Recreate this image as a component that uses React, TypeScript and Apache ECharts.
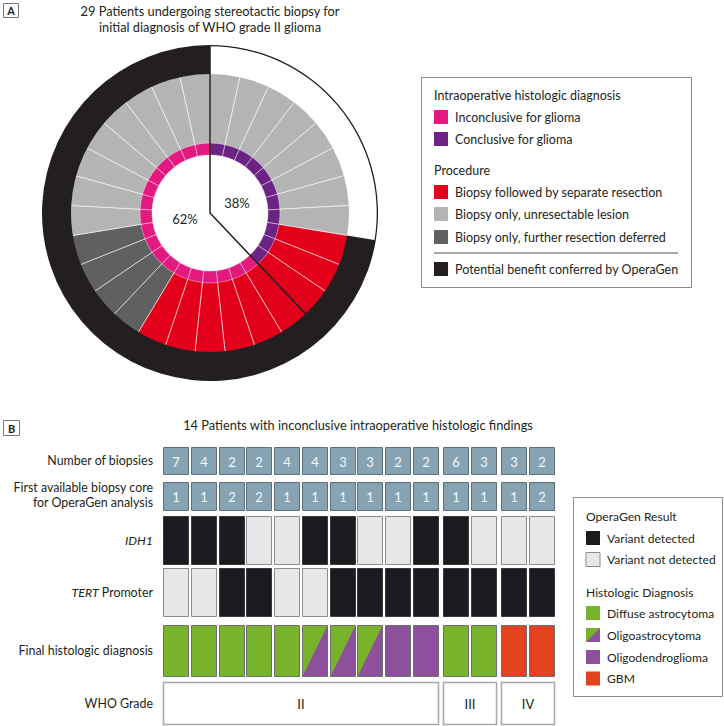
import React, { useEffect, useRef } from 'react';
import * as echarts from 'echarts';

// ---------- Panel A data ----------
const titleA = ['29 Patients undergoing stereotactic biopsy for', 'initial diagnosis of WHO grade II glioma'];
const diagnosisCategories = ['Conclusive for glioma', 'Inconclusive for glioma'];
const diagnosisCounts = [11, 18];
const procedureSegmentCategories = [
  'Biopsy only, unresectable lesion',
  'Biopsy followed by separate resection',
  'Biopsy only, further resection deferred',
  'Biopsy only, unresectable lesion',
];
const procedureSegmentCounts = [8, 9, 4, 8];
const benefitCategories = ['No additional benefit', 'Potential benefit conferred by OperaGen'];
const benefitCounts = [8, 21];

// ---------- Panel B data ----------
const titleB = '14 Patients with inconclusive intraoperative histologic findings';
const biopsyCounts = [7, 4, 2, 2, 4, 4, 3, 3, 2, 2, 6, 3, 3, 2];
const firstCore = [1, 1, 2, 2, 1, 1, 1, 1, 1, 1, 1, 1, 1, 2];
const idh1 = [1, 1, 1, 0, 0, 1, 1, 0, 0, 1, 1, 0, 0, 0];
const tert = [0, 0, 1, 1, 0, 0, 1, 1, 1, 1, 1, 1, 1, 1];
const histology = ['DA', 'DA', 'DA', 'DA', 'DA', 'OA', 'OA', 'OA', 'OD', 'OD', 'DA', 'DA', 'GBM', 'GBM'];
const whoGrades = ['II', 'III', 'IV'];
const gradeGroup = [0, 0, 0, 0, 0, 0, 0, 0, 0, 0, 1, 1, 2, 2];

// ---------- styles ----------
const FONT = 'Lato, "Open Sans", sans-serif';
const TXT = '#231f20';
const PINK = '#e3197f';
const PURPLE_A = '#6c2384';
const RED_A = '#e2001a';
const LGRAY = '#b4b4b4';
const DGRAY = '#606060';
const BLACK = '#231f20';
const DIAG_COLORS: Record<string, string> = {
  'Conclusive for glioma': PURPLE_A,
  'Inconclusive for glioma': PINK,
};
const PROC_COLORS: Record<string, string> = {
  'Biopsy followed by separate resection': RED_A,
  'Biopsy only, unresectable lesion': LGRAY,
  'Biopsy only, further resection deferred': DGRAY,
};
const BENEFIT_COLORS: Record<string, string> = {
  'No additional benefit': '#ffffff',
  'Potential benefit conferred by OperaGen': BLACK,
};
const BLUEGRAY = '#85a3b2';
const DET = '#1d1b20';
const NOTDET = '#e6e7e8';
const GREEN = '#77b32b';
const PURPLE_B = '#8c509c';
const GBM = '#e4411f';

const CX = 210;
const CY = 213;
const R_HOLE = 58;
const R_DIAG = 70;
const R_PROC = 140;
const R_OUT = 168;

const CELL_W = 0.912;
const GROUP_GAP = 0.08;
const ROWS = [
  { top: 0, bottom: 27 },
  { top: 34.5, bottom: 62 },
  { top: 69, bottom: 117 },
  { top: 120.5, bottom: 168 },
  { top: 178, bottom: 228.7 },
  { top: 234.7, bottom: 278 },
];

const expand = (cats: string[], counts: number[]) =>
  cats.flatMap((c, i) => Array.from({ length: counts[i] }, () => c));

function txt(text: string, x: number, y: number, extra: any = {}) {
  const align = extra.align || 'left';
  return {
    type: 'text',
    x,
    y,
    z: 20,
    style: {
      text,
      fill: extra.fill || TXT,
      fontSize: extra.fontSize || 12.5,
      fontFamily: FONT,
      fontWeight: extra.fontWeight || 'normal',
      fontStyle: extra.fontStyle || 'normal',
      align,
      textAlign: align,
      verticalAlign: 'middle',
      textVerticalAlign: 'middle',
      lineHeight: extra.lineHeight,
      rich: extra.rich,
    },
  };
}

function swatch(x: number, y: number, fill: string, stroke?: string) {
  return {
    type: 'rect',
    z: 20,
    shape: { x, y: y - 7, width: 14, height: 14 },
    style: { fill, stroke: stroke || 'none', lineWidth: 1 },
  };
}

const LB = 12.1; // legend B font size
const RL = 12.4; // row label font size

export default function App() {
  const ref = useRef<HTMLDivElement>(null);

  useEffect(() => {
    document.body.style.margin = '0';
    if (!ref.current) return;
    const chart = echarts.init(ref.current, null, { renderer: 'svg' });

    const total = diagnosisCounts.reduce((a, b) => a + b, 0);
    const diagSlices = expand(diagnosisCategories, diagnosisCounts);
    const procSlices = expand(procedureSegmentCategories, procedureSegmentCounts);
    const ang = (diagnosisCounts[0] / total) * Math.PI * 2;
    const pct = (n: number) => `${Math.round((n / total) * 100)}%`;

    const commonPie = {
      type: 'pie',
      center: [CX, CY],
      startAngle: 90,
      clockwise: true,
      silent: true,
      label: { show: false },
      labelLine: { show: false },
      emphasis: { disabled: true },
    };

    const cellData: number[][] = [];
    for (let row = 0; row < 5; row++) {
      for (let p = 0; p < biopsyCounts.length; p++) {
        cellData.push([p + GROUP_GAP * gradeGroup[p], row, p]);
      }
    }
    const gradeData = whoGrades.map((g, gi) => {
      const members = gradeGroup.map((v, i) => (v === gi ? i : -1)).filter((i) => i >= 0);
      const first = members[0];
      const last = members[members.length - 1];
      return [first + GROUP_GAP * gi, last + GROUP_GAP * gi + CELL_W, gi];
    });

    const legendA: any[] = [
      {
        type: 'rect',
        z: 19,
        shape: { x: 421.5, y: 77.5, width: 270, height: 210 },
        style: { fill: '#fff', stroke: '#8c8c8c', lineWidth: 1 },
      },
      txt('Intraoperative histologic diagnosis', 434, 95),
      swatch(434, 117, DIAG_COLORS['Inconclusive for glioma']),
      txt('Inconclusive for glioma', 455, 117),
      swatch(434, 139, DIAG_COLORS['Conclusive for glioma']),
      txt('Conclusive for glioma', 455, 139),
      txt('Procedure', 434, 170),
      swatch(434, 192, PROC_COLORS['Biopsy followed by separate resection']),
      txt('Biopsy followed by separate resection', 455, 192),
      swatch(434, 214, PROC_COLORS['Biopsy only, unresectable lesion']),
      txt('Biopsy only, unresectable lesion', 455, 214),
      swatch(434, 237, PROC_COLORS['Biopsy only, further resection deferred']),
      txt('Biopsy only, further resection deferred', 455, 237),
      {
        type: 'line',
        z: 20,
        shape: { x1: 434, y1: 253, x2: 678, y2: 253 },
        style: { stroke: '#555', lineWidth: 1 },
      },
      swatch(434, 269, BENEFIT_COLORS['Potential benefit conferred by OperaGen']),
      txt('Potential benefit conferred by OperaGen', 455, 269),
    ];

    const legendB: any[] = [
      {
        type: 'rect',
        z: 19,
        shape: { x: 573.5, y: 497.5, width: 149, height: 199 },
        style: { fill: '#fff', stroke: '#8c8c8c', lineWidth: 1 },
      },
      txt('OperaGen Result', 586, 516, { fontSize: LB }),
      swatch(586, 538, DET),
      txt('Variant detected', 607, 538, { fontSize: LB }),
      swatch(586, 559.5, NOTDET, '#8a8c8e'),
      txt('Variant not detected', 607, 559.5, { fontSize: LB }),
      txt('Histologic Diagnosis', 586, 592, { fontSize: LB }),
      swatch(586, 613, GREEN),
      txt('Diffuse astrocytoma', 607, 613, { fontSize: LB }),
      swatch(586, 635, GREEN),
      {
        type: 'polygon',
        z: 21,
        shape: { points: [[586, 642], [600, 628], [600, 642]] },
        style: { fill: PURPLE_B },
      },
      txt('Oligoastrocytoma', 607, 635, { fontSize: LB }),
      swatch(586, 657, PURPLE_B),
      txt('Oligodendroglioma', 607, 657, { fontSize: LB }),
      swatch(586, 678.5, GBM),
      txt('GBM', 607, 678.5, { fontSize: LB }),
    ];

    const panelLabels: any[] = [
      {
        type: 'rect',
        z: 20,
        shape: { x: 3.5, y: 3.5, width: 15, height: 14 },
        style: { fill: '#fff', stroke: '#777', lineWidth: 1 },
      },
      txt('A', 11, 10.8, { align: 'center', fontWeight: 'bold', fontSize: 11 }),
      {
        type: 'rect',
        z: 20,
        shape: { x: 3.5, y: 420.5, width: 16, height: 15 },
        style: { fill: '#fff', stroke: '#777', lineWidth: 1 },
      },
      txt('B', 11.5, 428.3, { align: 'center', fontWeight: 'bold', fontSize: 11 }),
    ];

    const titles: any[] = [
      txt(titleA[0], CX, 11, { align: 'center', fontSize: 12.8 }),
      txt(titleA[1], CX, 27, { align: 'center', fontSize: 12.8 }),
      txt(titleB, 358, 425, { align: 'center', fontSize: 12.8 }),
    ];

    const rowLabels: any[] = [
      txt('Number of biopsies', 153, 460, { align: 'right', fontSize: RL }),
      txt('First available biopsy core\nfor OperaGen analysis', 153, 495, {
        align: 'right',
        fontSize: RL,
        lineHeight: 15,
      }),
      txt('IDH1', 153, 540, { align: 'right', fontSize: RL, fontStyle: 'italic' }),
      txt('{i|TERT} Promoter', 153, 592, {
        align: 'right',
        fontSize: RL,
        rich: { i: { fontStyle: 'italic', fontSize: RL, fontFamily: FONT, fill: TXT } },
      }),
      txt('Final histologic diagnosis', 153, 650, { align: 'right', fontSize: RL }),
      txt('WHO Grade', 153, 703, { align: 'right', fontSize: RL }),
    ];

    const donutMarks: any[] = [
      {
        type: 'polyline',
        z: 30,
        shape: {
          points: [
            [CX, CY - R_OUT],
            [CX, CY],
            [CX + R_PROC * Math.sin(ang), CY - R_PROC * Math.cos(ang)],
          ],
        },
        style: { stroke: BLACK, lineWidth: 1.5, fill: 'none' },
      },
      txt(pct(diagnosisCounts[0]), 237, 203, { align: 'center', fontSize: 13 }),
      txt(pct(diagnosisCounts[1]), 185, 219, { align: 'center', fontSize: 13 }),
    ];

    const option: any = {
      animation: false,
      backgroundColor: '#ffffff',
      grid: { left: 163, top: 447, width: 391, height: 278 },
      xAxis: { type: 'value', min: 0, max: 13 + 2 * GROUP_GAP + CELL_W, show: false },
      yAxis: { type: 'value', min: 0, max: 278, inverse: true, show: false },
      series: [
        {
          ...commonPie,
          z: 2,
          radius: [R_DIAG - 1, R_PROC],
          itemStyle: { borderColor: 'rgba(255,255,255,0.55)', borderWidth: 1 },
          data: procSlices.map((c) => ({ value: 1, name: c, itemStyle: { color: PROC_COLORS[c] } })),
        },
        {
          ...commonPie,
          z: 3,
          radius: [R_HOLE, R_DIAG],
          itemStyle: { borderColor: 'rgba(255,255,255,0.4)', borderWidth: 1 },
          data: diagSlices.map((c) => ({ value: 1, name: c, itemStyle: { color: DIAG_COLORS[c] } })),
        },
        {
          ...commonPie,
          z: 3,
          radius: [R_PROC - 1, R_OUT],
          itemStyle: { borderWidth: 0 },
          data: benefitCategories.map((c, i) => ({
            value: benefitCounts[i],
            name: c,
            itemStyle: { color: BENEFIT_COLORS[c] },
          })),
        },
        {
          ...commonPie,
          z: 4,
          radius: [R_OUT - 1.3, R_OUT],
          itemStyle: { borderWidth: 0 },
          data: benefitCategories.map((c, i) => ({
            value: benefitCounts[i],
            name: c + ' outline',
            itemStyle: { color: i === 0 ? BLACK : 'rgba(0,0,0,0)' },
          })),
        },
        {
          type: 'custom',
          clip: false,
          silent: true,
          data: cellData,
          renderItem: (params: any, api: any) => {
            const x = api.value(0) as number;
            const row = api.value(1) as number;
            const p = api.value(2) as number;
            const r = ROWS[row];
            const a = api.coord([x, r.top]);
            const b = api.coord([x + CELL_W, r.bottom]);
            const x0 = Math.round(a[0]) + 0.5;
            const y0 = Math.round(a[1]) + 0.5;
            const w = Math.round(b[0] - a[0]);
            const h = Math.round(b[1] - a[1]);
            const children: any[] = [];
            let fill = BLUEGRAY;
            let stroke = '#5f6f77';
            let label: string | null = null;
            if (row === 0) label = String(biopsyCounts[p]);
            else if (row === 1) label = String(firstCore[p]);
            else if (row === 2 || row === 3) {
              const v = row === 2 ? idh1[p] : tert[p];
              fill = v ? DET : NOTDET;
              stroke = v ? '#3a383c' : '#8a8c8e';
            } else {
              const hcat = histology[p];
              fill = hcat === 'DA' || hcat === 'OA' ? GREEN : hcat === 'OD' ? PURPLE_B : GBM;
              stroke = '#6d6e71';
            }
            children.push({
              type: 'rect',
              shape: { x: x0, y: y0, width: w, height: h },
              style: { fill, stroke: 'none' },
            });
            if (row === 4 && histology[p] === 'OA') {
              children.push({
                type: 'polygon',
                shape: { points: [[x0, y0 + h], [x0 + w, y0], [x0 + w, y0 + h]] },
                style: { fill: PURPLE_B },
              });
            }
            children.push({
              type: 'rect',
              shape: { x: x0, y: y0, width: w, height: h },
              style: { fill: 'none', stroke, lineWidth: 1 },
            });
            if (label !== null) {
              children.push({
                type: 'text',
                x: x0 + w / 2,
                y: y0 + h / 2 + 0.5,
                style: {
                  text: label,
                  fill: '#f4f7f9',
                  fontSize: 13,
                  fontFamily: FONT,
                  align: 'center',
                  textAlign: 'center',
                  verticalAlign: 'middle',
                  textVerticalAlign: 'middle',
                },
              });
            }
            return { type: 'group', children };
          },
        },
        {
          type: 'custom',
          clip: false,
          silent: true,
          data: gradeData,
          renderItem: (params: any, api: any) => {
            const r = ROWS[5];
            const a = api.coord([api.value(0), r.top]);
            const b = api.coord([api.value(1), r.bottom]);
            const gi = api.value(2) as number;
            const x0 = Math.round(a[0]) + 0.5;
            const y0 = Math.round(a[1]) + 0.5;
            const w = Math.round(b[0] - a[0]);
            const h = Math.round(b[1] - a[1]) - 1;
            return {
              type: 'group',
              children: [
                {
                  type: 'rect',
                  shape: { x: x0, y: y0, width: w, height: h },
                  style: { fill: '#ffffff', stroke: '#a7a9ac', lineWidth: 1.5 },
                },
                {
                  type: 'text',
                  x: x0 + w / 2,
                  y: y0 + h / 2,
                  style: {
                    text: whoGrades[gi],
                    fill: TXT,
                    fontSize: 13,
                    fontFamily: FONT,
                    align: 'center',
                    textAlign: 'center',
                    verticalAlign: 'middle',
                    textVerticalAlign: 'middle',
                  },
                },
              ],
            };
          },
        },
      ],
      graphic: [...donutMarks, ...titles, ...legendA, ...legendB, ...panelLabels, ...rowLabels],
    };

    chart.setOption(option);
    return () => chart.dispose();
  }, []);

  return <div ref={ref} style={{ width: 724, height: 726 }} />;
}
